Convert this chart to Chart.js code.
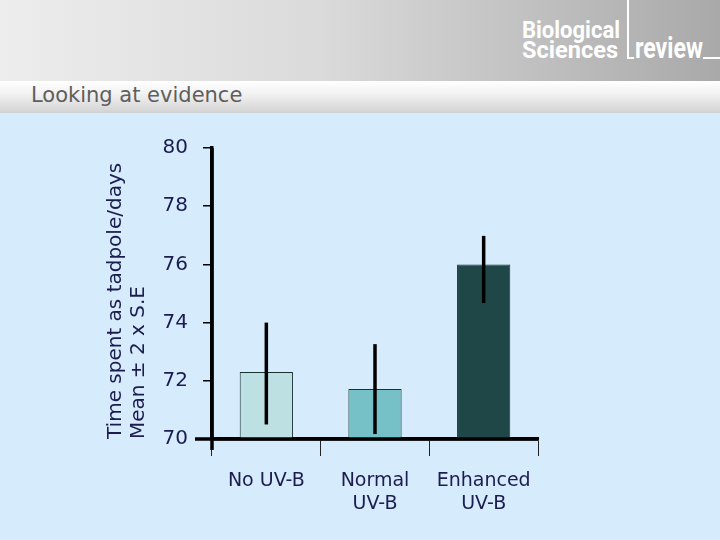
<!DOCTYPE html>
<html>
<head>
<meta charset="utf-8">
<script src="https://cdn.jsdelivr.net/npm/chart.js@4.4.1/dist/chart.umd.min.js"></script>
<style>
  html, body { margin:0; padding:0; }
  body { width:720px; height:540px; position:relative; overflow:hidden; background:#d6ebfc; font-family:"DejaVu Sans", Verdana, sans-serif; }
  #hdr { position:absolute; left:0; top:0; width:720px; height:81px; background:linear-gradient(to right, #ededed 0%, #dadada 45%, #a9a9a9 100%); }
  #band { position:absolute; left:0; top:81px; width:720px; height:32px; background:linear-gradient(to bottom, #ffffff 0%, #f2f2f2 40%, #d2d2d2 100%); }
  #sub { position:absolute; left:31px; top:83px; font-size:21px; color:#5e5e5e; font-family:"DejaVu Sans", Verdana, sans-serif; white-space:nowrap; }
  .logo { position:absolute; color:#ffffff; font-family:Roboto, "DejaVu Sans Condensed", sans-serif; font-weight:bold; white-space:nowrap; transform-origin:0 0; }
  #l1 { left:522px; top:18px; font-size:24px; line-height:24px; }
  #l2 { left:522px; top:38px; font-size:24px; line-height:24px; }
  #l3 { left:635px; top:33px; font-size:30px; line-height:30px; }
  #vline { position:absolute; left:627px; top:0px; width:2px; height:59px; background:#fff; }
  #vfoot { position:absolute; left:627px; top:57px; width:7px; height:2px; background:#fff; }
  #uline { position:absolute; left:703px; top:57px; width:17px; height:2px; background:#fff; }
  #c { position:absolute; left:0; top:0; }
</style>
</head>
<body>
<div id="hdr"></div>
<div id="band"></div>
<div id="sub">Looking at evidence</div>
<div class="logo" id="l1" data-w="98">Biological</div>
<div class="logo" id="l2" data-w="96">Sciences</div>
<div class="logo" id="l3" data-w="68">review</div>
<div id="vline"></div>
<div id="vfoot"></div>
<div id="uline"></div>
<canvas id="c" width="720" height="540"></canvas>
<script>
const categories = [["No UV-B"], ["Normal", "UV-B"], ["Enhanced", "UV-B"]];
const meanValues = [72.3, 71.72, 76.0];
const errorLow = [70.5, 70.17, 74.67];
const errorHigh = [74.0, 73.26, 76.98];
const yTicks = [70, 72, 74, 76, 78, 80];
const yTitle = ["Time spent as tadpole/days", "Mean \u00b1 2 x S.E"];
const barColors = ["#bde0e3", "#76c1c7", "#1f4748"];

const navy = "#1c1c50";

document.querySelectorAll(".logo").forEach(el => {
  const w = el.getBoundingClientRect().width;
  const target = parseFloat(el.dataset.w);
  if (w > 0) el.style.transform = "scaleX(" + (target / w) + ")";
});

const axisPlugin = {
  id: "axisExtras",
  afterDatasetsDraw(chart) {
    const ctx = chart.ctx;
    const y = chart.scales.y;
    const meta = chart.getDatasetMeta(0);
    ctx.save();
    ctx.strokeStyle = "#000";
    ctx.lineWidth = 3.5;
    ctx.lineCap = "butt";
    meta.data.forEach((bar, i) => {
      const top = y.getPixelForValue(errorHigh[i]);
      const bot = Math.min(y.getPixelForValue(errorLow[i]), y.bottom);
      ctx.beginPath();
      ctx.moveTo(bar.x, top);
      ctx.lineTo(bar.x, bot);
      ctx.stroke();
    });
    ctx.restore();
  },
  afterDraw(chart) {
    const ctx = chart.ctx;
    const a = chart.chartArea;
    ctx.save();
    ctx.strokeStyle = "#000";
    ctx.lineWidth = 3.5;
    ctx.beginPath();
    ctx.moveTo(a.left, a.top);
    ctx.lineTo(a.left, a.bottom + 11);
    ctx.stroke();
    ctx.beginPath();
    ctx.moveTo(a.left - 17, a.bottom);
    ctx.lineTo(a.right, a.bottom);
    ctx.stroke();
    ctx.restore();
  }
};

new Chart(document.getElementById("c"), {
  type: "bar",
  data: {
    labels: categories,
    datasets: [{
      data: meanValues,
      backgroundColor: barColors,
      borderColor: "#173030",
      borderWidth: 1,
      borderSkipped: false,
      barPercentage: 0.49,
      categoryPercentage: 1.0
    }]
  },
  options: {
    responsive: false,
    animation: false,
    devicePixelRatio: 1,
    layout: { padding: { left: 0, right: 182, top: 148, bottom: 0 } },
    plugins: { legend: { display: false }, tooltip: { enabled: false } },
    scales: {
      x: {
        offset: true,
        grid: { display: true, offset: true, drawOnChartArea: false, drawTicks: true, tickLength: 17, color: "#222", lineWidth: 1 },
        border: { display: true, color: "#000", width: 3.5 },
        ticks: { color: navy, font: { family: "DejaVu Sans", size: 19, lineHeight: 1.2 }, padding: 14, maxRotation: 0, autoSkip: false },
        afterFit(s) { s.height = 101; }
      },
      y: {
        min: 70, max: 80,
        afterBuildTicks(s) { s.ticks = yTicks.map(v => ({ value: v })); },
        grid: { display: true, drawOnChartArea: false, drawTicks: true, tickLength: 9, color: "#000", lineWidth: 1.5 },
        border: { display: true, color: "#000", width: 3.5 },
        ticks: { color: navy, font: { family: "DejaVu Sans", size: 20 }, padding: 15 },
        title: { display: true, text: yTitle, align: "start", color: navy, font: { family: "DejaVu Sans", size: 20, lineHeight: 1.15 }, padding: { top: 104.5, bottom: 0 } },
        afterFit(s) { s.width = 212; }
      }
    }
  },
  plugins: [axisPlugin]
});
</script>
</body>
</html>
